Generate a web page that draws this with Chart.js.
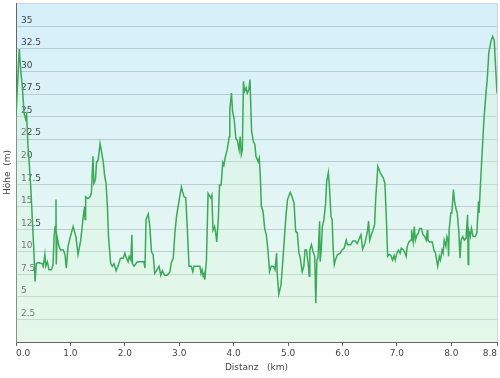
<!DOCTYPE html>
<html>
<head>
<meta charset="utf-8">
<script src="https://cdn.jsdelivr.net/npm/chart.js@4.4.1/dist/chart.umd.min.js"></script>
<style>
html,body{margin:0;padding:0;background:#fff;}
#wrap{width:500px;height:378px;}
</style>
</head>
<body>
<div id="wrap"><canvas id="c" width="500" height="378"></canvas></div>
<script>
const distKm = [0.00,0.06,0.086,0.116,0.147,0.178,0.196,0.22,0.239,0.27,0.30,0.33,0.35,0.373,0.41,0.48,0.50,0.53,0.546,0.576,0.607,0.65,0.68,0.70,0.72,0.735,0.74,0.754,0.79,0.82,0.87,0.90,0.925,0.956,1.0,1.05,1.10,1.14,1.19,1.23,1.26,1.27,1.28,1.32,1.36,1.385,1.415,1.43,1.46,1.48,1.51,1.545,1.575,1.605,1.63,1.655,1.68,1.70,1.74,1.77,1.80,1.84,1.88,1.92,1.97,2.0,2.03,2.06,2.08,2.11,2.13,2.14,2.17,2.23,2.35,2.37,2.39,2.43,2.46,2.49,2.52,2.55,2.59,2.63,2.66,2.69,2.73,2.78,2.83,2.85,2.89,2.92,2.95,3.0,3.04,3.06,3.09,3.12,3.15,3.18,3.22,3.25,3.27,3.33,3.38,3.40,3.42,3.44,3.46,3.47,3.50,3.53,3.55,3.58,3.60,3.62,3.65,3.67,3.69,3.72,3.74,3.77,3.80,3.82,3.85,3.88,3.92,3.93,3.96,3.98,4.01,4.04,4.07,4.10,4.12,4.14,4.16,4.18,4.20,4.23,4.25,4.28,4.30,4.33,4.36,4.39,4.41,4.45,4.47,4.49,4.51,4.54,4.57,4.60,4.63,4.66,4.69,4.73,4.76,4.79,4.80,4.83,4.87,4.90,4.93,4.96,4.99,5.04,5.07,5.11,5.14,5.17,5.20,5.22,5.26,5.29,5.31,5.34,5.35,5.37,5.39,5.40,5.43,5.46,5.49,5.51,5.53,5.55,5.58,5.59,5.61,5.63,5.66,5.69,5.71,5.74,5.76,5.79,5.81,5.83,5.85,5.87,5.91,5.96,5.99,6.03,6.07,6.09,6.15,6.19,6.24,6.27,6.34,6.37,6.41,6.46,6.48,6.50,6.53,6.56,6.59,6.61,6.65,6.70,6.75,6.78,6.81,6.83,6.86,6.89,6.92,6.95,6.97,7.00,7.03,7.06,7.08,7.12,7.15,7.17,7.19,7.22,7.26,7.27,7.30,7.32,7.34,7.37,7.39,7.42,7.45,7.48,7.51,7.54,7.56,7.57,7.60,7.65,7.68,7.71,7.73,7.75,7.78,7.80,7.83,7.85,7.87,7.90,7.92,7.94,7.95,7.96,7.99,8.01,8.04,8.06,8.09,8.11,8.14,8.16,8.18,8.21,8.24,8.27,8.30,8.31,8.32,8.35,8.37,8.40,8.44,8.47,8.50,8.51,8.55,8.60,8.64,8.66,8.69,8.73,8.76,8.79,8.81,8.84];
const hoehe = [25.0,32.5,30.2,28.4,25.4,24.7,25.2,21.7,20.2,17.3,13.6,9.9,6.7,8.7,8.8,8.7,8.4,9.7,8.4,8.9,8.0,8.0,8.5,11.7,12.8,15.8,8.6,11.7,10.6,10.2,10.2,9.7,8.2,10.6,11.7,12.8,11.7,9.7,11.3,13.6,15.0,13.6,16.1,15.9,16.1,16.5,20.6,17.6,18.0,19.9,20.2,22.0,21.0,19.9,18.4,17.6,15.0,11.7,8.7,8.4,8.7,7.9,8.5,9.3,9.3,9.85,9.3,8.9,9.5,9.1,11.9,8.7,8.4,8.9,8.9,8.2,13.6,14.2,12.8,10.0,9.7,7.6,8.0,8.4,7.4,7.9,7.4,7.4,7.8,8.7,9.3,12.1,13.9,15.8,17.2,16.7,16.1,16.0,12.4,8.4,8.4,7.8,8.4,8.4,8.4,7.6,8.0,7.3,7.6,6.9,9.1,16.5,16.3,16.0,16.3,12.4,12.8,12.1,11.1,13.9,17.4,17.4,19.9,19.6,20.6,21.3,22.8,25.8,27.6,25.6,24.7,22.6,22.3,21.3,22.8,20.8,21.3,28.9,27.8,28.2,27.6,28.0,29.1,23.4,22.3,21.9,20.6,20.0,20.4,18.4,15.0,14.5,12.6,11.9,10.2,7.8,8.4,8.4,8.0,9.85,7.6,5.3,6.3,8.7,11.3,13.9,15.8,16.6,16.2,15.4,12.3,12.1,9.85,9.5,7.8,8.4,10.2,10.2,9.6,8.7,7.3,10.2,10.8,10.0,9.5,4.3,9.1,9.3,13.4,8.9,10.2,12.8,13.6,15.4,17.8,18.8,17.3,13.9,13.6,10.2,8.6,9.1,9.7,9.85,10.2,10.4,11.3,10.8,10.8,11.2,11.2,10.9,11.9,10.3,10.9,12.3,13.4,11.3,11.9,12.4,13.0,15.8,19.5,18.7,18.2,17.6,13.2,9.5,9.7,9.6,9.1,9.6,9.1,9.85,10.2,9.85,10.4,10.2,9.85,9.5,10.6,11.1,11.3,12.4,11.1,12.8,11.3,11.9,12.0,12.6,12.6,11.9,11.7,11.3,12.4,11.3,11.1,11.1,10.2,9.85,9.1,8.4,9.5,9.1,10.2,9.85,11.3,10.6,11.7,11.3,9.5,12.4,14.3,14.3,16.9,15.6,14.7,14.3,12.1,9.3,11.3,11.7,11.3,11.5,14.1,8.6,12.4,11.7,12.6,11.7,11.7,12.1,15.6,14.3,19.1,24.7,27.8,29.1,32.1,33.4,33.9,33.4,31.0,27.6];
const xTickValues = [0,1,2,3,4,5,6,7,8,8.84];
const yTickValues = [0,2.5,5,7.5,10,12.5,15,17.5,20,22.5,25,27.5,30,32.5,35];

const points = distKm.map((d,i)=>({x:d, y:hoehe[i]}));
const font = {family:'"DejaVu Sans", Verdana, sans-serif', size:9};

const bgPlugin = {
  id:'bg',
  beforeDraw(chart){
    const {ctx, chartArea:a} = chart;
    const g = ctx.createLinearGradient(0,a.top,0,a.bottom);
    g.addColorStop(0,'#d5effa');
    g.addColorStop(1,'#ebfaf0');
    ctx.save();
    ctx.fillStyle = g;
    ctx.fillRect(a.left,a.top,a.right-a.left,a.bottom-a.top);
    ctx.strokeStyle = '#d4d4d4';
    ctx.lineWidth = 1;
    ctx.beginPath();
    ctx.moveTo(a.left, a.top+0.5); ctx.lineTo(a.right+0.5, a.top+0.5);
    ctx.lineTo(a.right+0.5, a.bottom);
    ctx.stroke();
    ctx.restore();
  }
};

new Chart(document.getElementById('c'), {
  type:'line',
  data:{datasets:[{
    data: points,
    borderColor:'#3aa958',
    borderWidth:1.5,
    backgroundColor:'rgba(215,246,215,0.3)',
    fill:'origin',
    pointRadius:0,
    tension:0
  }]},
  options:{
    responsive:false,
    animation:false,
    parsing:false,
    layout:{padding:{top:3,right:3,left:0,bottom:0}},
    plugins:{legend:{display:false}, tooltip:{enabled:false}},
    scales:{
      x:{
        type:'linear', min:0, max:8.84,
        afterBuildTicks: s => { s.ticks = xTickValues.map(v=>({value:v})); },
        afterFit: s => { s.height = 36; s.paddingLeft = 0; s.paddingRight = 0; },
        grid:{drawOnChartArea:false, drawTicks:true, tickLength:4, color:'#666'},
        border:{display:true, color:'#666', width:1},
        ticks:{padding:2, align:'inner', maxRotation:0, autoSkip:false, font:font, color:'#444',
               callback: v => Number(v).toFixed(1)},
        title:{display:true, text:'Distanz   (km)', font:font, color:'#444', padding:{top:0,bottom:4.6}}
      },
      y:{
        type:'linear', min:0, max:37.6,
        afterBuildTicks: s => { s.ticks = yTickValues.map(v=>({value:v})); },
        afterFit: s => { s.width = 16; s.paddingTop = 0; s.paddingBottom = 0; },
        grid:{color:'rgba(150,165,178,0.5)', lineWidth:1, drawTicks:false, tickLength:0},
        border:{display:true, color:'#666', width:1},
        ticks:{mirror:true, padding:5, labelOffset:-6, font:font, color:'#444',
               callback: v => v===0 ? '' : String(v)},
        title:{display:true, text:'Höhe  (m)', font:font, color:'#444', padding:{top:2.6,bottom:0}}
      }
    }
  },
  plugins:[bgPlugin]
});
</script>
</body>
</html>
